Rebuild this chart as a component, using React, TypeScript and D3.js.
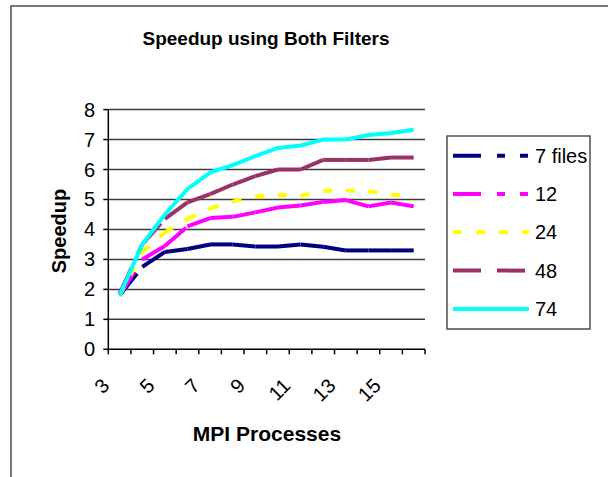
import React from 'react';
import * as d3 from 'd3';

// MPI process counts (category axis)
const processes = [3, 4, 5, 6, 7, 8, 9, 10, 11, 12, 13, 14, 15, 16];

// speedup per file set
const files7 = [1.8, 2.75, 3.25, 3.35, 3.5, 3.5, 3.43, 3.43, 3.5, 3.42, 3.3, 3.3, 3.3, 3.3];
const files12 = [1.8, 3.0, 3.45, 4.1, 4.38, 4.42, 4.57, 4.73, 4.8, 4.92, 4.98, 4.77, 4.9, 4.77];
const files24 = [1.8, 3.25, 3.9, 4.35, 4.7, 4.93, 5.1, 5.15, 5.12, 5.28, 5.3, 5.28, 5.15, 5.15];
const files48 = [1.85, 3.5, 4.35, 4.9, 5.18, 5.5, 5.78, 6.0, 6.0, 6.32, 6.32, 6.32, 6.4, 6.4];
const files74 = [1.8, 3.5, 4.5, 5.35, 5.9, 6.15, 6.45, 6.72, 6.8, 7.0, 7.0, 7.15, 7.22, 7.33];

const seriesNames = ['7 files', '12', '24', '48', '74'];
const yTicks = [0, 1, 2, 3, 4, 5, 6, 7, 8];

const colors = ['#000080', '#ff00ff', '#ffff00', '#993366', '#00ffff'];
const dashes = ['28,16,8,15,8,15', '28,16,8,15,8,15', '9,14', '28,16', null];

const font = 'Liberation Sans, Arial, sans-serif';

const App = () => {
  const width = 608;
  const height = 477;
  const plot = { left: 108.3, right: 425, top: 109.6, bottom: 349.3 };

  const x = d3.scaleBand<number>()
    .domain(processes)
    .range([plot.left, plot.right])
    .paddingInner(0)
    .paddingOuter(0);
  const cx = (c: number) => (x(c) as number) + x.bandwidth() / 2;

  const y = d3.scaleLinear().domain([0, 8]).range([plot.bottom, plot.top]);

  const line = d3.line<[number, number]>()
    .x(d => cx(d[0]))
    .y(d => y(d[1]));

  const all = [files7, files12, files24, files48, files74];

  // excel restarts the dash pattern on every segment
  const renderSeries = (vals: number[], i: number) => {
    const pts: [number, number][] = processes.map((p, k) => [p, vals[k]]);
    if (!dashes[i]) {
      return (
        <path key={i} d={line(pts) || ''} fill="none" stroke={colors[i]}
          strokeWidth={4} strokeLinejoin="round" />
      );
    }
    return (
      <g key={i}>
        {pts.slice(1).map((p, k) => (
          <path key={k} d={line([pts[k], p]) || ''} fill="none" stroke={colors[i]}
            strokeWidth={4} strokeDasharray={dashes[i] as string} />
        ))}
      </g>
    );
  };

  const boundaries = processes.map(p => x(p) as number).concat([plot.right]);
  const legend = { x: 447, y: 136, w: 143, h: 193 };

  return (
    <svg width={width} height={height}
      style={{ position: 'absolute', left: 0, top: 0, background: '#fff' }}>
      <rect x={11} y={6} width={640} height={520} fill="#fff" stroke="#4d4d4d" strokeWidth={1.5} />

      <text x={266} y={38} textAnchor="middle" dominantBaseline="central"
        fontFamily={font} fontWeight="bold" fontSize={19}>Speedup using Both Filters</text>

      {/* gridlines */}
      {yTicks.slice(1).map(t => (
        <line key={t} x1={plot.left} x2={plot.right} y1={y(t)} y2={y(t)}
          stroke="#3c3c3c" strokeWidth={1.5} />
      ))}

      {/* axes */}
      <line x1={plot.left} x2={plot.left} y1={plot.top} y2={plot.bottom} stroke="#000" strokeWidth={1.5} />
      <line x1={plot.left} x2={plot.right} y1={plot.bottom} y2={plot.bottom} stroke="#000" strokeWidth={1.5} />
      {yTicks.map(t => (
        <g key={t}>
          <line x1={plot.left - 5} x2={plot.left} y1={y(t)} y2={y(t)} stroke="#000" strokeWidth={1.5} />
          <text x={95} y={y(t)} textAnchor="end" dominantBaseline="central"
            fontFamily={font} fontSize={20}>{t}</text>
        </g>
      ))}
      {boundaries.map((b, k) => (
        <line key={k} x1={b} x2={b} y1={plot.bottom} y2={plot.bottom + 5} stroke="#000" strokeWidth={1.5} />
      ))}
      {processes.filter((p, k) => k % 2 === 0).map(p => (
        <text key={p} transform={`translate(${cx(p) - 9},387) rotate(-45)`} textAnchor="end"
          fontFamily={font} fontSize={20}>{p}</text>
      ))}

      <text transform="translate(59,231) rotate(-90)" textAnchor="middle" dominantBaseline="central"
        fontFamily={font} fontWeight="bold" fontSize={20}>Speedup</text>
      <text x={267} y={433} textAnchor="middle" dominantBaseline="central"
        fontFamily={font} fontWeight="bold" fontSize={21}>MPI Processes</text>

      {all.map((vals, i) => renderSeries(vals, i))}

      {/* legend */}
      <rect x={legend.x} y={legend.y} width={legend.w} height={legend.h} fill="#fff"
        stroke="#4d4d4d" strokeWidth={1.5} />
      {seriesNames.map((name, i) => {
        const ly = 155.7 + i * 38.3;
        return (
          <g key={name}>
            <line x1={453} x2={529} y1={ly} y2={ly} stroke={colors[i]} strokeWidth={4}
              strokeDasharray={dashes[i] || undefined} />
            <text x={535} y={ly} dominantBaseline="central" fontFamily={font} fontSize={20}>{name}</text>
          </g>
        );
      })}
    </svg>
  );
};

export default App;
